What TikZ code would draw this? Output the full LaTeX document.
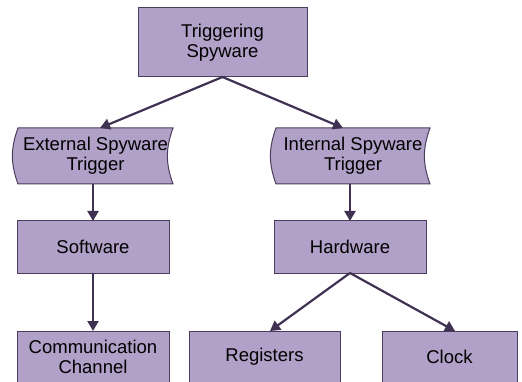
\documentclass[tikz,border=0pt]{standalone}
\usepackage{fontspec}
\setmainfont{Liberation Sans}
\usetikzlibrary{arrows.meta,backgrounds}
\definecolor{boxfill}{HTML}{B1A0C7}
\definecolor{boxline}{HTML}{4A3D5E}
\definecolor{arrowcol}{HTML}{3F3151}
\tikzset{
  base/.style={inner sep=0pt, outer sep=0pt, align=center,
    font=\fontsize{18.5}{20}\selectfont},
  box/.style={base, draw=boxline, line width=1pt, fill=boxfill},
  stored/.style={base},
  storedshape/.style={draw=boxline, line width=1pt, fill=boxfill},
  conn/.style={draw=arrowcol, line width=2.2pt, -{Triangle[length=10pt,width=11pt]}},
}
\begin{document}
\begin{tikzpicture}[x=1pt,y=-1pt]
\useasboundingbox (0,0) rectangle (522,382);
\node[box, minimum width=169pt, minimum height=69pt] (top) at (222.5,42.5) {Triggering\\Spyware};
\node[stored, minimum width=155pt, minimum height=56pt] (ext) at (95.5,156) {External Spyware\\Trigger};
\node[stored, minimum width=154pt, minimum height=56pt] (int) at (353,156) {Internal Spyware\\Trigger};
\node[box, minimum width=152pt, minimum height=52pt] (sw) at (93,247) {Software};
\node[box, minimum width=152pt, minimum height=52pt] (hw) at (350,247) {Hardware};
\node[box, minimum width=152pt, minimum height=52pt] (comm) at (93,357) {Communication\\Channel};
\node[box, minimum width=151pt, minimum height=52pt] (reg) at (264.5,357) {Registers};
\node[box, minimum width=135pt, minimum height=52pt] (clk) at (449.5,357) {Clock};
\begin{scope}[on background layer]
  \foreach \n in {ext,int}{
    \path[storedshape] (\n.north west) to[bend right=20] (\n.south west)
      -- (\n.south east) to[bend left=20] (\n.north east) -- cycle;
  }
\end{scope}
\draw[conn] (top.south) -- ([xshift=4.5pt]ext.north);
\draw[conn] (top.south) -- ([xshift=-10pt]int.north);
\draw[conn] ([xshift=-2.5pt]ext.south) -- (sw.north);
\draw[conn] ([xshift=-3pt]int.south) -- (hw.north);
\draw[conn] (sw.south) -- (comm.north);
\draw[conn] (hw.south) -- ([xshift=5.5pt]reg.north);
\draw[conn] (hw.south) -- ([xshift=5.5pt]clk.north);
\end{tikzpicture}
\end{document}
